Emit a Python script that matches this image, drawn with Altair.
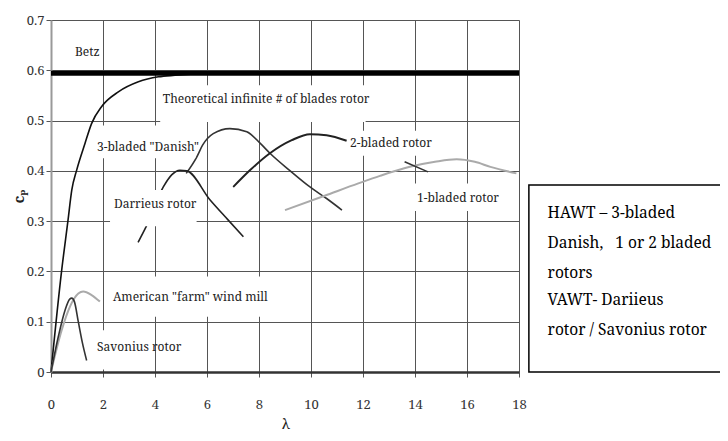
import altair as alt
import pandas as pd

# ---- curve data (tip speed ratio lambda, power coefficient cp) ----
theory_x = [0, 0.41, 0.65, 0.80, 0.99, 1.31, 1.56, 1.95, 2.59, 3.36, 4.13, 4.77, 6.0, 8.0, 10.0]
theory_y = [0, 0.202, 0.30, 0.362, 0.402, 0.455, 0.494, 0.528, 0.557, 0.577, 0.587, 0.59, 0.593, 0.594, 0.594]

danish_x = [5.2, 5.6, 5.83, 6.24, 6.88, 7.53, 8.04, 8.42, 9.2, 9.96, 10.6, 11.19]
danish_y = [0.395, 0.427, 0.451, 0.474, 0.484, 0.478, 0.455, 0.435, 0.40, 0.368, 0.345, 0.322]

darrieus_x = [3.35, 3.65, 4.32, 4.64, 4.96, 5.22, 6.12, 6.8, 7.4]
darrieus_y = [0.258, 0.288, 0.368, 0.392, 0.401, 0.400, 0.342, 0.303, 0.269]

two_x = [7.01, 7.65, 8.42, 9.26, 9.96, 10.6, 11.37]
two_y = [0.368, 0.401, 0.435, 0.461, 0.473, 0.471, 0.46]

one_x = [9.0, 10.5, 11.82, 12.65, 13.8, 14.77, 15.6, 16.3, 16.9, 17.9]
one_y = [0.322, 0.350, 0.375, 0.390, 0.408, 0.418, 0.423, 0.418, 0.408, 0.395]

farm_x = [0, 0.41, 0.73, 1.05, 1.24, 1.56, 1.88]
farm_y = [0, 0.083, 0.13, 0.156, 0.16, 0.153, 0.14]

savonius_x = [0, 0.28, 0.54, 0.72, 0.8, 0.9, 1.05, 1.2, 1.37]
savonius_y = [0, 0.07, 0.123, 0.145, 0.147, 0.14, 0.10, 0.06, 0.023]

leader_x = [13.6, 14.5]
leader_y = [0.418, 0.398]

betz_cp = 0.594

# ---- labels ----
label_text = ["Betz", "Theoretical infinite # of blades rotor", "3-bladed \"Danish\"",
              "Darrieus rotor", "2-bladed rotor", "1-bladed rotor",
              "American \"farm\" wind mill", "Savonius rotor"]
label_x = [0.92, 4.3, 1.77, 2.42, 11.5, 14.08, 2.38, 1.77]
label_y = [0.636, 0.543, 0.447, 0.334, 0.455, 0.346, 0.149, 0.05]

# white label backgrounds (hide gridlines behind labels)
bg_x1 = [4.2, 1.7, 2.27, 11.45, 14.0, 2.3, 1.75]
bg_x2 = [12.1, 5.55, 5.6, 14.6, 17.1, 8.1, 3.9]
bg_y1 = [0.497, 0.425, 0.29, 0.43, 0.32, 0.11, 0.005]
bg_y2 = [0.57, 0.49, 0.362, 0.48, 0.375, 0.19, 0.083]

# side note box
note_lines = ["HAWT \u2013 3-bladed", "Danish,\u00a0\u00a0 1 or 2 bladed", "rotors",
              "VAWT- Dariieus", "rotor / Savonius rotor"]
note_x = [19.1] * 5
note_y = [0.316, 0.256, 0.197, 0.143, 0.0835]
box_x1, box_x2, box_y1, box_y2 = [18.38], [25.8], [0.0], [0.372]

SERIF = "Noto Serif"

xs = alt.Scale(domain=[0, 18], nice=False, zero=False)
ys = alt.Scale(domain=[0, 0.7], nice=False)

x_axis = alt.Axis(values=list(range(0, 19, 2)), title="\u03bb", grid=True,
                  gridColor="#555", gridWidth=1, domainColor="#333", domainWidth=2.5,
                  tickColor="#555", tickSize=5, labelFont=SERIF, labelFontSize=13,
                  labelColor="#333", labelPadding=21, labelFlush=False,
                  titleFont=SERIF, titleFontSize=15, titleY=56, titleBaseline="alphabetic",
                  titleColor="#222", titleFontWeight="normal")
y_axis = alt.Axis(values=[0, 0.1, 0.2, 0.3, 0.4, 0.5, 0.6, 0.7],
                  labelExpr="datum.value == 0 ? '0' : format(datum.value, '.1f')",
                  title="c\u209a", grid=True, gridColor="#555", gridWidth=1,
                  domainColor="#999", domainWidth=2, tickColor="#555", tickSize=5,
                  labelFont=SERIF, labelFontSize=13, labelColor="#333", labelPadding=2,
                  titleFont=SERIF, titleFontSize=15, titleFontWeight="bold",
                  titleColor="#222", titleX=-33, titleY=176, titleAngle=270,
                  titleAlign="center", titleBaseline="middle")


def X(f="x"):
    return alt.X(f"{f}:Q", scale=xs, axis=x_axis)


def Y(f="y"):
    return alt.Y(f"{f}:Q", scale=ys, axis=y_axis)


def line(xv, yv, color, width):
    df = pd.DataFrame({"x": xv, "y": yv})
    return alt.Chart(df).mark_line(color=color, strokeWidth=width,
                                   interpolate="monotone").encode(x=X(), y=Y())


curves = [
    line(theory_x, theory_y, "#111", 1.6),
    line(danish_x, danish_y, "#333", 1.6),
    line(darrieus_x, darrieus_y, "#222", 1.6),
    line(two_x, two_y, "#222", 2),
    line(one_x, one_y, "#aaa", 2),
    line(farm_x, farm_y, "#aaa", 2),
    line(savonius_x, savonius_y, "#333", 1.6),
    line(leader_x, leader_y, "#333", 1.6),
]

bg = alt.Chart(pd.DataFrame({"x1": bg_x1, "x2": bg_x2, "y1": bg_y1, "y2": bg_y2})).mark_rect(
    color="white").encode(x=X("x1"), x2="x2:Q", y=Y("y1"), y2="y2:Q")

betz = alt.Chart(pd.DataFrame({"x": [0], "x2": [18], "y": [betz_cp]})).mark_rule(
    color="black", strokeWidth=5, strokeCap="butt").encode(x=X(), x2="x2:Q", y=Y())

labels = alt.Chart(pd.DataFrame({"x": label_x, "y": label_y, "t": label_text})).mark_text(
    align="left", baseline="middle", font=SERIF, fontSize=12, color="#222").encode(
    x=X(), y=Y(), text="t:N")

box = alt.Chart(pd.DataFrame({"x1": box_x1, "x2": box_x2, "y1": box_y1, "y2": box_y2})).mark_rect(
    fill="white", stroke="black", strokeWidth=1.5).encode(x=X("x1"), x2="x2:Q", y=Y("y1"), y2="y2:Q")

note = alt.Chart(pd.DataFrame({"x": note_x, "y": note_y, "t": note_lines})).mark_text(
    align="left", baseline="middle", font=SERIF, fontSize=15.5, color="black").encode(
    x=X(), y=Y(), text="t:N")

chart = alt.layer(*curves, bg, betz, labels, box, note).properties(
    width=468, height=352,
    autosize=alt.AutoSizeParams(type="none"),
    padding={"left": 43, "top": 12, "right": 201, "bottom": 61},
    background="white",
).configure_view(stroke="#999", strokeWidth=2).configure_axis(
    labelFont=SERIF, titleFont=SERIF).configure(font=SERIF)

chart.save("out.html", embed_options={"renderer": "svg", "actions": False})
